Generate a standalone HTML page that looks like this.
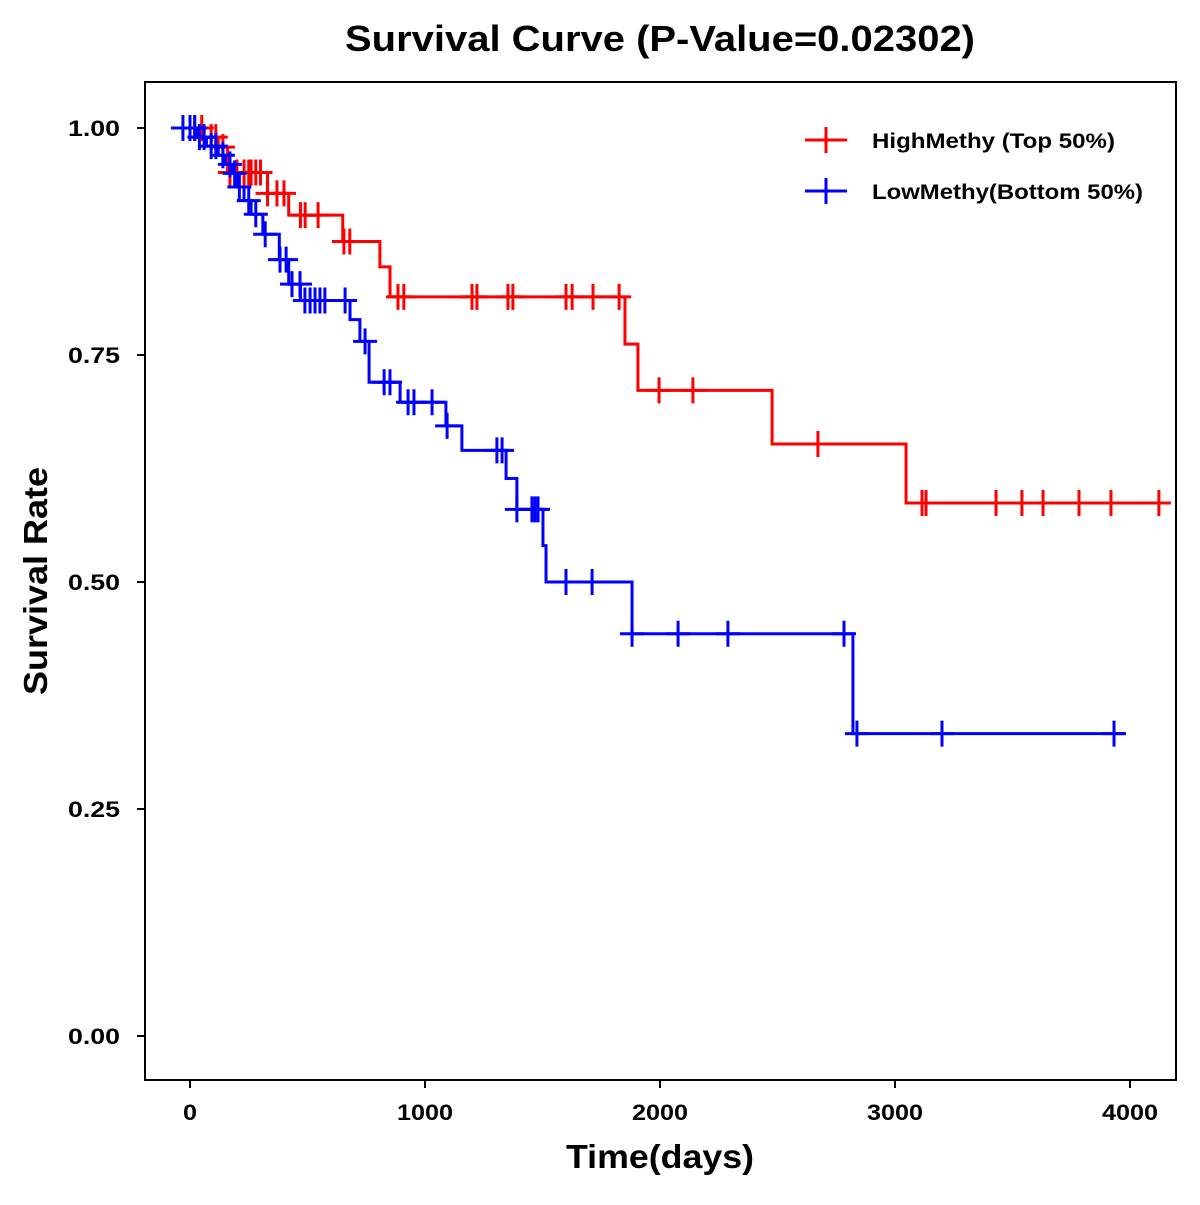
<!DOCTYPE html>
<html><head><meta charset="utf-8"><style>
body{margin:0;background:#fff}
svg text{font-family:"Liberation Sans",Arial,sans-serif;font-weight:bold}
</style></head><body>
<svg id="chart" width="1200" height="1200" viewBox="0 0 1200 1200" xmlns="http://www.w3.org/2000/svg">
<rect width="1200" height="1200" fill="#fff"/>
<text x="345" y="51" font-size="36" textLength="630" lengthAdjust="spacingAndGlyphs">Survival Curve (P-Value=0.02302)</text>
<rect x="145" y="82" width="1031" height="998" fill="none" stroke="#000" stroke-width="2"/>
<g id="axes"></g>
<g id="series"></g>
<text x="566" y="1168" font-size="33" textLength="188" lengthAdjust="spacingAndGlyphs">Time(days)</text>
<text transform="translate(47,695) rotate(-90)" font-size="33" textLength="228" lengthAdjust="spacingAndGlyphs">Survival Rate</text>
<g>
<g>
<line x1="805" y1="140" x2="847" y2="140" stroke="#f00" stroke-width="3"/><line x1="826" y1="127" x2="826" y2="153" stroke="#f00" stroke-width="3"/>
<text x="872" y="148" font-size="21" textLength="243" lengthAdjust="spacingAndGlyphs">HighMethy (Top 50%)</text></g>
<g>
<line x1="805" y1="191" x2="847" y2="191" stroke="#00f" stroke-width="3"/><line x1="826" y1="178" x2="826" y2="204" stroke="#00f" stroke-width="3"/>
<text x="872" y="199" font-size="21" textLength="271" lengthAdjust="spacingAndGlyphs">LowMethy(Bottom 50%)</text></g>
</g>
</svg>
<script>
const xTicks=[0,1000,2000,3000,4000];
const yTicks=[0,0.25,0.5,0.75,1.0];
const yTickLabels=["0.00","0.25","0.50","0.75","1.00"];
const highTimes=[0,60,120,160,330,420,650,808,851,1851,1906,2477,3047];
const highSurv=[1,0.99,0.979,0.951,0.928,0.904,0.875,0.847,0.814,0.762,0.711,0.652,0.587];
const highEnd=4170;
const highCensor=[20,50,90,110,140,170,200,230,250,260,280,300,330,370,400,470,490,545,655,680,885,910,1200,1221,1353,1374,1600,1626,1715,1826,1996,2140,2672,3115,3132,3430,3540,3630,3783,3919,4123];
const lowTimes=[0,30,70,120,150,180,200,230,260,310,380,420,470,681,723,762,894,1089,1157,1345,1391,1502,1515,1881,2821];
const lowSurv=[1,0.99,0.98,0.97,0.96,0.95,0.935,0.92,0.905,0.883,0.855,0.828,0.81,0.789,0.765,0.72,0.698,0.672,0.645,0.614,0.58,0.54,0.5,0.443,0.333];
const lowEnd=3979;
const lowCensor=[-30,0,20,40,60,90,110,140,170,190,210,250,280,320,383,409,434,468,489,511,532,553,574,660,745,826,851,928,953,1030,1094,1306,1328,1391,1455,1468,1481,1600,1711,1881,2077,2289,2783,2838,3200,3932];
const NS="http://www.w3.org/2000/svg";
const X=d=>190+d*0.235, Y=v=>1036-v*908;
function mk(tag,attrs,parent){const e=document.createElementNS(NS,tag);for(const k in attrs)e.setAttribute(k,attrs[k]);parent.appendChild(e);return e;}
const axes=document.getElementById('axes');
xTicks.forEach(t=>{
  const l=mk('line',{x1:X(t),x2:X(t),y1:1080,y2:1088,stroke:'#000','stroke-width':2},axes);
  
  
  const s=String(t);
  const tx=mk('text',{x:X(t),y:1120,'font-size':22,'text-anchor':'middle',textLength:s.length*14,lengthAdjust:'spacingAndGlyphs'},axes);tx.textContent=s;
  
  
});
yTicks.forEach((t,i)=>{
  const l=mk('line',{x1:137,x2:145,y1:Y(t),y2:Y(t),stroke:'#000','stroke-width':2},axes);
  
  
  const tx=mk('text',{x:68,y:Y(t)+8,'font-size':22,textLength:52,lengthAdjust:'spacingAndGlyphs'},axes);tx.textContent=yTickLabels[i];
  
  
});
function survAt(times,surv,d){let s=surv[0];for(let i=0;i<times.length;i++){if(times[i]<=d)s=surv[i];}return s;}
const g=document.getElementById('series');
function draw(times,surv,end,cens,color,name){
  let d=`M${X(times[0])},${Y(surv[0])}`;
  for(let i=1;i<times.length;i++){d+=`H${X(times[i])}V${Y(surv[i])}`;}
  d+=`H${X(end)}`;
  const p=mk('path',{d:d,fill:'none',stroke:color,'stroke-width':3},g);
  
  
  cens.forEach(c=>{
    const y=Y(survAt(times,surv,c)),x=X(c);
    const m=mk('path',{d:`M${x-12},${y}H${x+12}M${x},${y-13}V${y+13}`,stroke:color,'stroke-width':3,fill:'none'},g);
    
    
  });
}
draw(highTimes,highSurv,highEnd,highCensor,'#f00','high-methy');
draw(lowTimes,lowSurv,lowEnd,lowCensor,'#00f','low-methy');
</script>
</body></html>
